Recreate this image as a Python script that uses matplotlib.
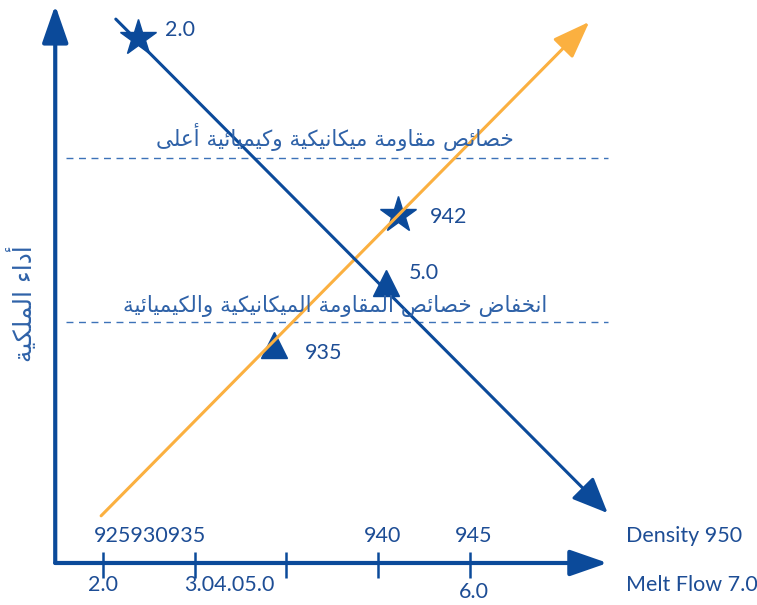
import matplotlib
matplotlib.use('Agg')
import matplotlib.pyplot as plt

# data (density on x, performance on y, arbitrary units)
density_ticks = [925, 930, 935, 940, 945]
density_labels = ['925', '930', '935', '940', '945']
melt_labels = ['2.0', '3.0', '4.0', '5.0', '6.0']
density_axis_label = 'Density 950'
melt_axis_label = 'Melt Flow 7.0'

orange_d = [924.9, 951.5]
orange_p = [0.85, 9.75]
blue_d = [925.7, 952.5]
blue_p = [9.8, 0.9]

star_d = [926.9, 941.1]
star_p = [9.46, 6.27]
star_labels = ['2.0', '942']
tri_d = [940.4, 934.3]
tri_p = [5.05, 3.93]
tri_labels = ['5.0', '935']

high_level = 7.30
low_level = 4.34
high_text = 'خصائص مقاومة ميكانيكية وكيميائية أعلى'
low_text = 'انخفاض خصائص المقاومة الميكانيكية والكيميائية'
ylabel_text = 'أداء الملكية'

BLUE = '#0b4a9a'
TEXT = '#1d4d95'
ATEXT = '#2f62a8'
ORANGE = '#fbb040'
DASH = '#3d72b8'

# minimal arabic shaping (matplotlib has no RTL/joining support)
FORMS = {
    '\u0621': ('\uFE80', None, None, None),
    '\u0623': ('\uFE83', '\uFE84', None, None),
    '\u0626': ('\uFE89', '\uFE8A', '\uFE8B', '\uFE8C'),
    '\u0627': ('\uFE8D', '\uFE8E', None, None),
    '\u0629': ('\uFE93', '\uFE94', None, None),
    '\u062E': ('\uFEA5', '\uFEA6', '\uFEA7', '\uFEA8'),
    '\u062F': ('\uFEA9', '\uFEAA', None, None),
    '\u0635': ('\uFEB9', '\uFEBA', '\uFEBB', '\uFEBC'),
    '\u0636': ('\uFEBD', '\uFEBE', '\uFEBF', '\uFEC0'),
    '\u0639': ('\uFEC9', '\uFECA', '\uFECB', '\uFECC'),
    '\u0641': ('\uFED1', '\uFED2', '\uFED3', '\uFED4'),
    '\u0642': ('\uFED5', '\uFED6', '\uFED7', '\uFED8'),
    '\u0643': ('\uFED9', '\uFEDA', '\uFEDB', '\uFEDC'),
    '\u0644': ('\uFEDD', '\uFEDE', '\uFEDF', '\uFEE0'),
    '\u0645': ('\uFEE1', '\uFEE2', '\uFEE3', '\uFEE4'),
    '\u0646': ('\uFEE5', '\uFEE6', '\uFEE7', '\uFEE8'),
    '\u0648': ('\uFEED', '\uFEEE', None, None),
    '\u0649': ('\uFEEF', '\uFEF0', None, None),
    '\u064A': ('\uFEF1', '\uFEF2', '\uFEF3', '\uFEF4'),
}


def shape(s):
    out = []
    for i, ch in enumerate(s):
        f = FORMS.get(ch)
        if f is None:
            out.append(ch)
            continue
        prev = s[i - 1] if i > 0 else ''
        nxt = s[i + 1] if i + 1 < len(s) else ''
        jp = f[1] is not None and prev in FORMS and FORMS[prev][2] is not None
        jn = f[2] is not None and nxt in FORMS and FORMS[nxt][1] is not None
        if jp and jn:
            out.append(f[3])
        elif jp:
            out.append(f[1])
        elif jn:
            out.append(f[2])
        else:
            out.append(f[0])
    return ''.join(reversed(out))


fig = plt.figure(figsize=(7.57, 6.05), dpi=100)
ax = fig.add_axes([0, 0, 1, 1])
ax.set_xlim(919.39, 960.64)
ax.set_ylim(-0.757, 10.144)
ax.axis('off')

LAT = ['Lato', 'DejaVu Sans']
FS = 15.5
x0, x1 = 922.4, 952.5


def arrow(xs, ys, color, lw, hl, hw):
    ax.annotate('', xy=(xs[1], ys[1]), xytext=(xs[0], ys[0]),
                arrowprops=dict(arrowstyle='-|>,head_length=%s,head_width=%s' % (hl, hw),
                                color=color, lw=lw, shrinkA=0, shrinkB=0,
                                mutation_scale=10))


# axes with arrow heads
arrow([x0, x0], [0, 10.05], BLUE, 3, 2.3, 0.8)
arrow([x0, x1], [0, 0], BLUE, 3, 2.3, 0.8)
ax.vlines(density_ticks, -0.27, 0.2, color=BLUE, lw=1.8)

# dashed levels
ax.hlines([high_level, low_level], 923.0, 952.5, color=DASH, lw=1,
          linestyles=(0, (5, 4)))

# lines
arrow(orange_d, orange_p, ORANGE, 2.2, 2.3, 0.85)
arrow(blue_d, blue_p, BLUE, 2.2, 2.2, 0.95)

ax.plot(star_d, star_p, '*', color=BLUE, ms=27, mec=BLUE)
ax.plot(tri_d, tri_p, '^', color=BLUE, ms=19)

for d, p, t, dx, dy in zip(star_d, star_p, star_labels, [1.5, 1.7], [0.14, -0.04]):
    ax.text(d + dx, p + dy, t, color=TEXT, fontsize=FS, family=LAT, va='center')
for d, p, t, dx, dy in zip(tri_d, tri_p, tri_labels, [1.25, 1.7], [0.18, -0.15]):
    ax.text(d + dx, p + dy, t, color=TEXT, fontsize=FS, family=LAT, va='center')

# arabic captions
ax.text(937.64, high_level + 0.38, shape(high_text), color=ATEXT, fontsize=15.5,
        family='DejaVu Sans', ha='center', va='center')
ax.text(937.64, low_level + 0.29, shape(low_text), color=ATEXT, fontsize=15.5,
        family='DejaVu Sans', ha='center', va='center')
ax.text(920.6, 4.68, shape(ylabel_text), color=ATEXT, fontsize=18,
        family='DejaVu Sans', ha='center', va='center', rotation=90)

# tick labels, crowded together as in the original
ax.text(927.56, 0.48, ''.join(density_labels[:3]), color=TEXT, fontsize=FS,
        family=LAT, ha='center', va='center')
for x, t in zip([940.25, 945.2], density_labels[3:]):
    ax.text(x, 0.48, t, color=TEXT, fontsize=FS, family=LAT, ha='center', va='center')
ax.text(925.0, -0.4, melt_labels[0], color=TEXT, fontsize=FS, family=LAT,
        ha='center', va='center')
ax.text(931.87, -0.4, ''.join(melt_labels[1:4]), color=TEXT, fontsize=FS,
        family=LAT, ha='center', va='center')
ax.text(945.2, -0.52, melt_labels[4], color=TEXT, fontsize=FS, family=LAT,
        ha='center', va='center')
ax.text(953.5, 0.48, density_axis_label, color=TEXT, fontsize=FS, family=LAT, va='center')
ax.text(953.5, -0.4, melt_axis_label, color=TEXT, fontsize=FS, family=LAT, va='center')

fig.savefig('out.png', dpi=100)
